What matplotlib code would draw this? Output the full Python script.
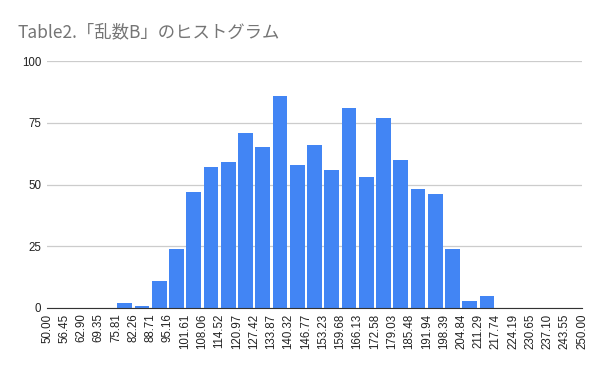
import numpy as np
import matplotlib
matplotlib.use("Agg")
import matplotlib.pyplot as plt

plt.rcParams['font.family'] = ['Liberation Sans', 'Noto Sans CJK JP', 'DejaVu Sans']

# histogram of 乱数B: 31 bins from 50 to 250
edge_labels = ["50.00", "56.45", "62.90", "69.35", "75.81", "82.26", "88.71", "95.16",
               "101.61", "108.06", "114.52", "120.97", "127.42", "133.87", "140.32",
               "146.77", "153.23", "159.68", "166.13", "172.58", "179.03", "185.48",
               "191.94", "198.39", "204.84", "211.29", "217.74", "224.19", "230.65",
               "237.10", "243.55", "250.00"]
counts = [0, 0, 0, 0, 2, 1, 11, 24, 47, 57, 59, 71, 65, 86, 58, 66,
          56, 81, 53, 77, 60, 48, 46, 24, 3, 5, 0, 0, 0, 0, 0]
y_ticks = [0, 25, 50, 75, 100]

edges = np.array([float(s) for s in edge_labels])
centers = (edges[:-1] + edges[1:]) / 2
binw = edges[1] - edges[0]

fig = plt.figure(figsize=(6, 3.71), dpi=100)
ax = fig.add_axes([47/600, 63/371, 535/600, 247/371])

ax.bar(centers, counts, width=binw*0.85, color="#4285F4", zorder=3)

ax.set_xlim(50, 250)
ax.set_ylim(0, 100)
ax.set_xticks(edges)
ax.set_xticklabels(edge_labels, rotation=90, fontsize=8.3, color="#222222")
ax.set_yticks(y_ticks)
ax.set_yticklabels([str(v) for v in y_ticks], fontsize=8.3, color="#222222")
ax.tick_params(length=0, pad=4)
ax.grid(axis="y", color="#cccccc", linewidth=0.9, zorder=0)
for s in ["top", "right", "left"]:
    ax.spines[s].set_visible(False)
ax.spines["bottom"].set_color("#333333")
ax.spines["bottom"].set_zorder(4)

fig.text(18/600, 1 - 32/371, "Table2.「乱数B」のヒストグラム", fontsize=12.5,
         color="#757575", va="center", ha="left",
         family=['Noto Sans CJK JP', 'DejaVu Sans'])

fig.savefig("out.png", dpi=100)
